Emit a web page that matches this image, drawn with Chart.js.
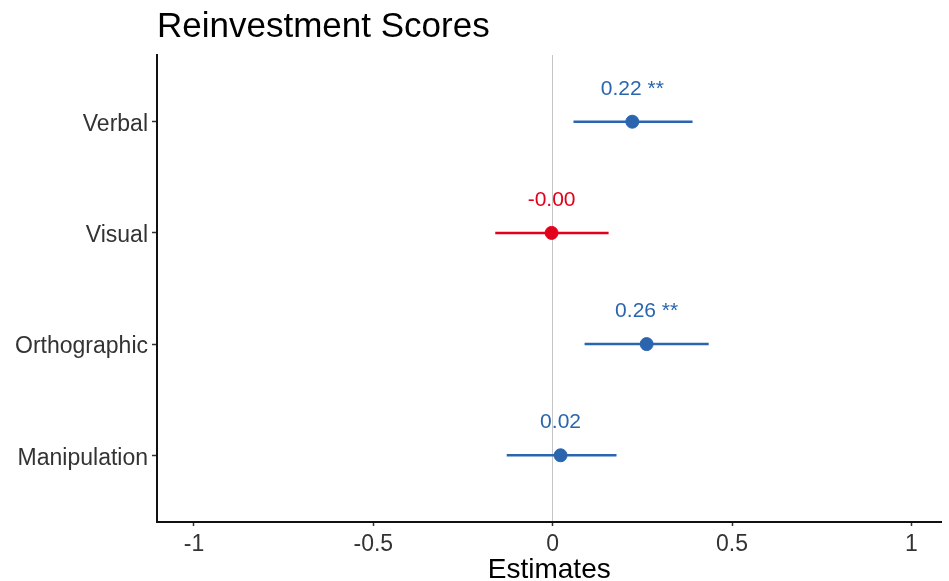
<!DOCTYPE html>
<html>
<head>
<meta charset="utf-8">
<script src="https://cdn.jsdelivr.net/npm/chart.js@4"></script>
<style>
  html, body { margin: 0; padding: 0; background: #fff; }
  #wrap { width: 949px; height: 581px; }
</style>
</head>
<body>
<div id="wrap"><canvas id="chart" width="949" height="581"></canvas></div>
<script>
const terms = ["Verbal", "Visual", "Orthographic", "Manipulation"];
const estimates = [0.222, -0.003, 0.262, 0.022];
const ciLow = [0.058, -0.16, 0.089, -0.128];
const ciHigh = [0.39, 0.156, 0.435, 0.178];
const stars = ["**", "", "**", ""];
const xTicks = [-1, -0.5, 0, 0.5, 1];

const BLUE = "#2a65ad";
const RED = "#e2001a";
const FONT = "'Liberation Sans', Arial, sans-serif";
const colors = estimates.map(v => v < 0 ? RED : BLUE);

const datasets = terms.map((t, i) => ({
  type: "line",
  data: [{ x: ciLow[i], y: i + 1 }, { x: ciHigh[i], y: i + 1 }],
  borderColor: colors[i],
  borderWidth: 2.5,
  pointRadius: 0,
  fill: false,
}));
datasets.push({
  type: "scatter",
  data: terms.map((t, i) => ({ x: estimates[i], y: i + 1 })),
  backgroundColor: colors,
  borderColor: colors,
  pointRadius: 6.5,
  pointHoverRadius: 6.5,
});

const extras = {
  id: "extras",
  afterDatasetsDraw(chart) {
    const { ctx, scales, chartArea } = chart;
    ctx.save();
    ctx.textAlign = "center";
    ctx.textBaseline = "middle";
    ctx.font = "21px " + FONT;
    terms.forEach((t, i) => {
      const x = scales.x.getPixelForValue(estimates[i]);
      const y = scales.y.getPixelForValue(i + 1) - 33;
      ctx.fillStyle = colors[i];
      ctx.fillText(estimates[i].toFixed(2) + (stars[i] ? " " + stars[i] : ""), x, y);
    });
    ctx.textAlign = "left";
    ctx.fillStyle = "#000";
    ctx.font = "35px " + FONT;
    ctx.fillText("Reinvestment Scores", chartArea.left, 27);
    ctx.restore();
  }
};

new Chart(document.getElementById("chart"), {
  data: { datasets },
  options: {
    responsive: false,
    animation: false,
    layout: { padding: { top: 55, right: 0, left: 0, bottom: 0 } },
    plugins: { legend: { display: false }, tooltip: { enabled: false } },
    scales: {
      x: {
        type: "linear",
        min: -1.103,
        max: 1.084,
        afterBuildTicks: s => { s.ticks = xTicks.map(v => ({ value: v })); },
        afterFit: s => { s.height = 59; },
        ticks: {
          color: "#333",
          font: { size: 23, family: FONT },
          padding: 5,
          callback: v => String(v),
        },
        grid: {
          color: c => c.tick && c.tick.value === 0 ? "#c4c4c4" : "transparent",
          lineWidth: 1,
          tickColor: "#333",
          tickLength: 4,
          tickWidth: 1.5,
        },
        border: { color: "#111", width: 2 },
        title: {
          display: true,
          text: "Estimates",
          color: "#000",
          font: { size: 28, family: FONT, lineHeight: 0.8 },
          padding: { top: 0, bottom: 0 },
        },
      },
      y: {
        type: "linear",
        reverse: true,
        min: 0.4,
        max: 4.6,
        afterBuildTicks: s => { s.ticks = terms.map((t, i) => ({ value: i + 1 })); },
        afterFit: s => { s.width = 157; },
        ticks: {
          color: "#333",
          font: { size: 23, family: FONT },
          padding: 4,
          labelOffset: 3,
          callback: v => terms[v - 1] || "",
        },
        grid: {
          color: "transparent",
          tickColor: "#333",
          tickLength: 5,
          tickWidth: 1.5,
        },
        border: { color: "#111", width: 2 },
      },
    },
  },
  plugins: [extras],
});
</script>
</body>
</html>
